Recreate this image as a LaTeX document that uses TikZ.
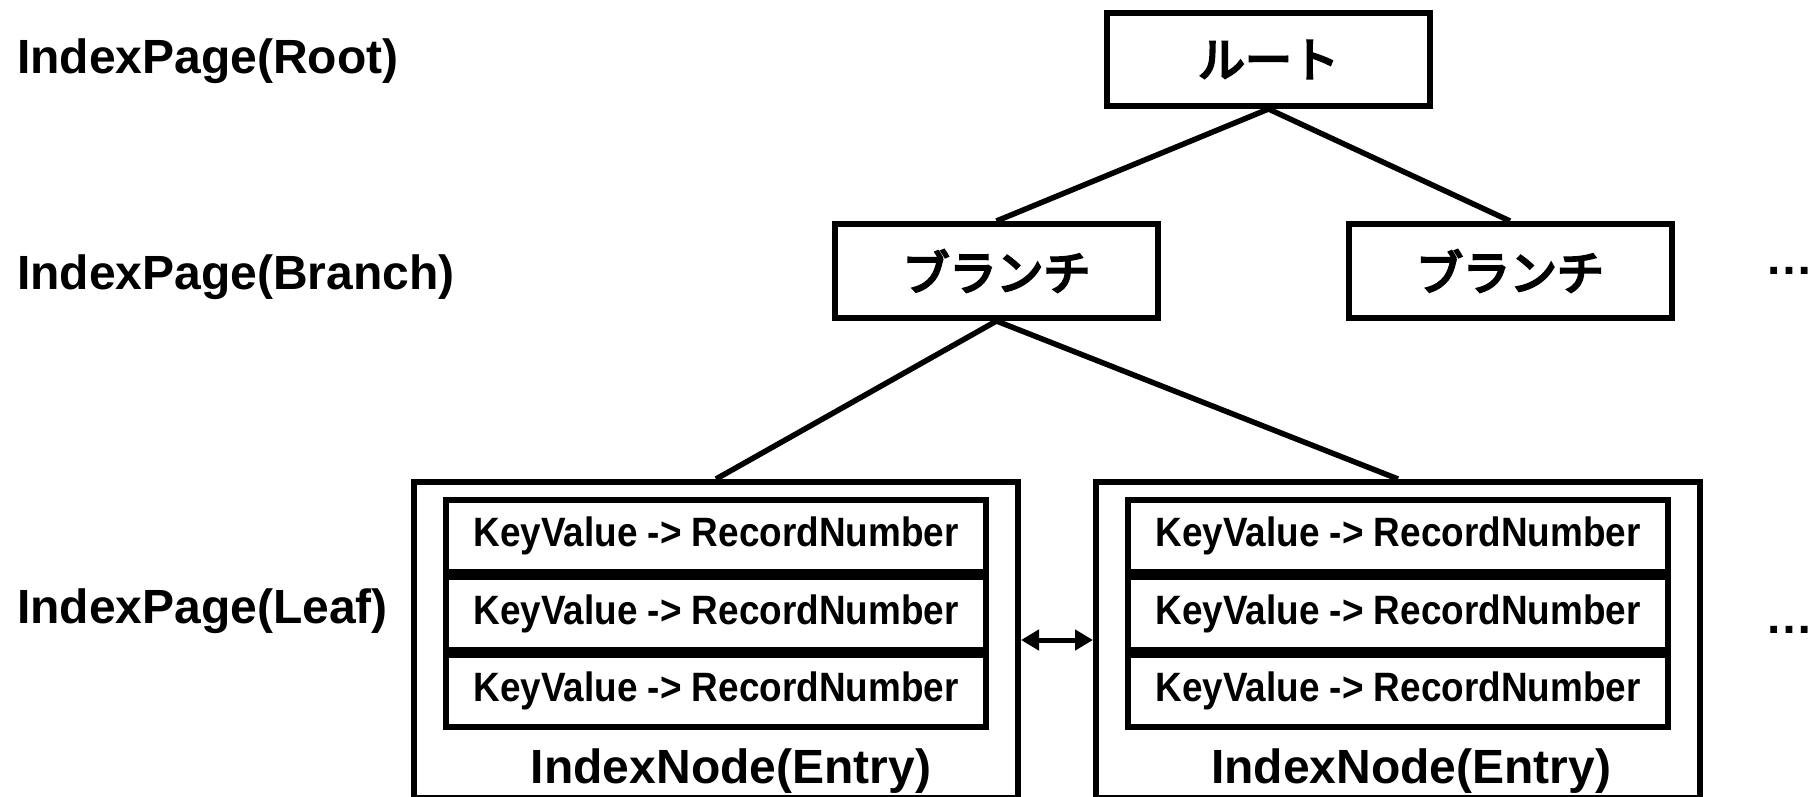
\documentclass[tikz,border=0pt]{standalone}
\usepackage{fontspec}
\setmainfont{Liberation Sans}
\newfontfamily\jpfont{Noto Sans CJK JP}[FakeBold=5]
\newfontfamily\entryfont{Liberation Sans}[FakeStretch=0.9]
\usetikzlibrary{arrows.meta}

\tikzset{
  pagebox/.style={draw, line width=6pt, fill=white, inner sep=0pt,
    minimum width=323pt, minimum height=93pt,
    font=\jpfont\fontsize{47}{50}\selectfont},
  leafbox/.style={draw, line width=6pt, inner sep=0pt,
    minimum width=604pt, minimum height=316pt},
  entrybox/.style={draw, line width=6pt, fill=white, inner sep=0pt,
    minimum width=540pt, minimum height=72pt,
    font=\entryfont\bfseries\fontsize{41}{44}\selectfont},
  levellabel/.style={anchor=base west, inner sep=0pt,
    font=\bfseries\fontsize{48}{52}\selectfont},
  nodelabel/.style={anchor=base, inner sep=0pt,
    font=\bfseries\fontsize{48}{52}\selectfont},
  more/.style={anchor=base, inner sep=0pt,
    font=\bfseries\fontsize{48}{52}\selectfont},
  link/.style={line width=5.5pt},
  sibling/.style={line width=5pt, {Triangle[length=18pt,width=20pt]}-{Triangle[length=18pt,width=20pt]}}
}

\begin{document}
\begin{tikzpicture}[x=1pt, y=-1pt]
  \useasboundingbox (0,0) rectangle (1814,796);

  % level captions
  \node[levellabel] (lroot)   at (17,73)  {IndexPage(Root)};
  \node[levellabel] (lbranch) at (17,289) {IndexPage(Branch)};
  \node[levellabel] (lleaf)   at (17,623) {IndexPage(Leaf)};

  % root and branch pages
  \node[pagebox] (root) at (1268.5,59.5) {ルート};
  \node[pagebox, minimum height=94pt] (br1) at (996.5,271) {ブランチ};
  \node[pagebox, minimum height=94pt] (br2) at (1510,271) {ブランチ};

  % leaf pages with their entries
  \node[leafbox] (leaf1) at (716,640) {};
  \node[leafbox] (leaf2) at (1398,640) {};
  \foreach \l/\x in {1/716, 2/1398} {
    \node[entrybox] (e\l a) at (\x,536)   {KeyValue -> RecordNumber};
    \node[entrybox, minimum height=73pt] (e\l b) at (\x,613.5) {KeyValue -> RecordNumber};
    \node[entrybox] (e\l c) at (\x,691)   {KeyValue -> RecordNumber};
  }
  \node[nodelabel] (n1) at (731,783)  {IndexNode(Entry)};
  \node[nodelabel] (n2) at (1411,783) {IndexNode(Entry)};

  % more pages to the right
  \node[more] (dots1) at (1789,274) {…};
  \node[more] (dots2) at (1789,633) {…};

  % tree links
  \draw[link] (root.south) -- (br1.north);
  \draw[link] (root.south) -- (br2.north);
  \draw[link] (br1.south) -- (leaf1.north);
  \draw[link] (br1.south) -- (leaf2.north);

  % sibling link between leaves
  \draw[sibling] (leaf1.east) -- (leaf2.west);
\end{tikzpicture}
\end{document}
